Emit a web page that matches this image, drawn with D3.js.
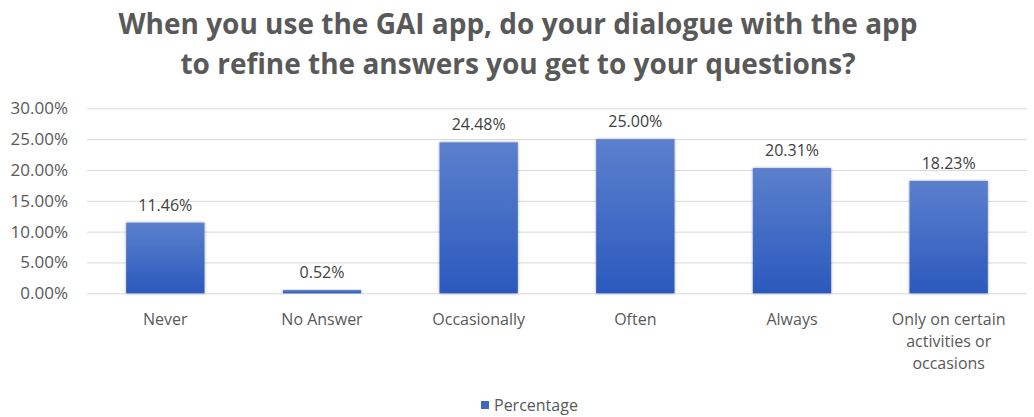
<!DOCTYPE html>
<html>
<head>
<meta charset="utf-8">
<script src="https://cdn.jsdelivr.net/npm/d3@7"></script>
<style>
  html, body { margin: 0; padding: 0; background: #fff; }
  svg { display: block; font-family: "Open Sans", sans-serif; }
</style>
</head>
<body>
<svg id="chart" width="1034" height="417"></svg>
<script>
// Survey responses (share of respondents, %)
const categories = ["Never", "No Answer", "Occasionally", "Often", "Always", "Only on certain activities or occasions"];
const categoryLines = [["Never"], ["No Answer"], ["Occasionally"], ["Often"], ["Always"], ["Only on certain", "activities or", "occasions"]];
const percentages = [11.46, 0.52, 24.48, 25.00, 20.31, 18.23];
const yTicks = [0, 5, 10, 15, 20, 25, 30];
const titleLines = ["When you use the GAI app, do your dialogue with the app", "to refine the answers you get to your questions?"];
const seriesName = "Percentage";

const svg = d3.select("#chart");
const plot = { left: 87, right: 1027, top: 108.3, bottom: 293.3 };

const x = d3.scaleBand().domain(categories).range([plot.left, plot.right]).paddingInner(0.5).paddingOuter(0.25);
const y = d3.scaleLinear().domain([0, 30]).range([plot.bottom, plot.top]);

// Bar gradient and soft shadow
const defs = svg.append("defs");
const grad = defs.append("linearGradient").attr("id", "barGrad").attr("x1", 0).attr("y1", 0).attr("x2", 0).attr("y2", 1);
grad.append("stop").attr("offset", "0%").attr("stop-color", "#5b80cd");
grad.append("stop").attr("offset", "100%").attr("stop-color", "#2b59bd");
const sh = defs.append("filter").attr("id", "shadow").attr("x", "-20%").attr("y", "-20%").attr("width", "140%").attr("height", "140%");
sh.append("feGaussianBlur").attr("in", "SourceAlpha").attr("stdDeviation", 1.5).attr("result", "b");
sh.append("feComponentTransfer").attr("in", "b").attr("result", "s").append("feFuncA").attr("type", "linear").attr("slope", 0.35);
const m = sh.append("feMerge");
m.append("feMergeNode").attr("in", "s");
m.append("feMergeNode").attr("in", "SourceGraphic");

// Title
svg.append("g").selectAll("text").data(titleLines).join("text")
  .attr("x", 518).attr("y", (d, i) => 34 + i * 40)
  .attr("text-anchor", "middle")
  .attr("font-size", 28).attr("font-weight", 700).attr("fill", "#595959")
  .text(d => d);

// Gridlines and y axis labels
const yAxis = d3.axisLeft(y).tickValues(yTicks).tickSize(-(plot.right - plot.left)).tickFormat(d => d.toFixed(2) + "%");
const gy = svg.append("g").attr("transform", `translate(${plot.left},0)`).call(yAxis);
gy.select(".domain").remove();
gy.selectAll(".tick line").attr("stroke", "#d9d9d9").attr("stroke-width", 1);
gy.selectAll(".tick text").attr("x", -19).attr("font-size", 17).attr("fill", "#595959").attr("font-family", "Open Sans, sans-serif");

// Bars
svg.append("g").selectAll("rect").data(percentages).join("rect")
  .attr("x", (d, i) => x(categories[i]))
  .attr("width", x.bandwidth())
  .attr("y", d => y(d))
  .attr("height", d => y(0) - y(d))
  .attr("fill", "url(#barGrad)")
  .attr("filter", "url(#shadow)");

// Value labels
svg.append("g").selectAll("text").data(percentages).join("text")
  .attr("x", (d, i) => x(categories[i]) + x.bandwidth() / 2)
  .attr("y", d => y(d) - 12)
  .attr("text-anchor", "middle")
  .attr("font-size", 16).attr("fill", "#404040")
  .text(d => d.toFixed(2) + "%");

// Category labels
const cat = svg.append("g").selectAll("text").data(categoryLines).join("text")
  .attr("text-anchor", "middle")
  .attr("font-size", 16).attr("fill", "#595959")
  .attr("transform", (d, i) => `translate(${x(categories[i]) + x.bandwidth() / 2},${plot.bottom + 32})`);
cat.selectAll("tspan").data(d => d).join("tspan")
  .attr("x", 0).attr("y", (d, i) => i * 22)
  .text(d => d);

// Legend
const lg = svg.append("g").attr("transform", "translate(481,398)");
lg.append("rect").attr("x", 0).attr("y", 3).attr("width", 8).attr("height", 8).attr("fill", "#3d68c6");
lg.append("text").attr("x", 13).attr("y", 12.5).attr("font-size", 16).attr("fill", "#595959").text(seriesName);
</script>
</body>
</html>
